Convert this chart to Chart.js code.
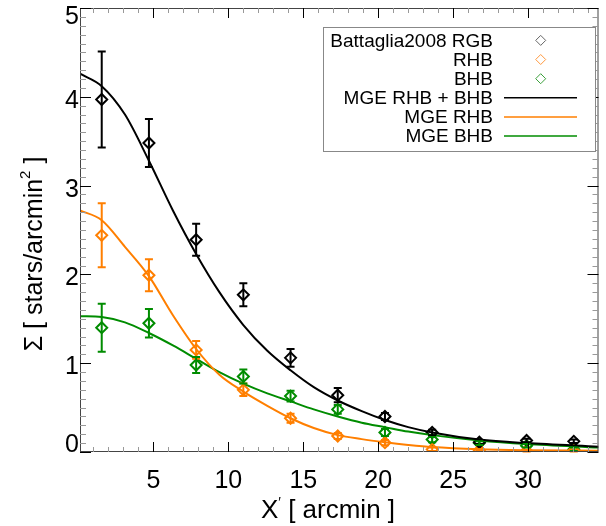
<!DOCTYPE html>
<html>
<head>
<meta charset="utf-8">
<script src="https://cdn.jsdelivr.net/npm/chart.js@4/dist/chart.umd.min.js"></script>
<style>
  html, body { margin: 0; padding: 0; background: #fff; }
</style>
</head>
<body>
<canvas id="myChart" width="606" height="526"></canvas>
<script>
// binned surface density (x in arcmin)
let radii = [1.55, 4.7, 7.85, 11.0, 14.15, 17.3, 20.45, 23.6, 26.75, 29.9, 33.05];
let rgbValues = [3.97, 3.48, 2.39, 1.77, 1.06, 0.64, 0.40, 0.22, 0.11, 0.13, 0.12];
let rgbErrors = [0.54, 0.27, 0.18, 0.13, 0.10, 0.08, 0.04, 0.03, 0.02, 0.02, 0.02];
let rhbValues = [2.44, 1.99, 1.15, 0.70, 0.38, 0.18, 0.105, 0.03, 0.02, 0.015, 0.015];
let rhbErrors = [0.36, 0.18, 0.10, 0.07, 0.05, 0.035, 0.03, 0.02, 0.01, 0.01, 0.01];
let bhbValues = [1.40, 1.45, 0.98, 0.85, 0.63, 0.48, 0.22, 0.14, 0.10, 0.07, 0.03];
let bhbErrors = [0.27, 0.16, 0.09, 0.08, 0.06, 0.05, 0.04, 0.03, 0.02, 0.02, 0.02];

// MGE model curves
let modelX = [0.1, 1.55, 3.1, 4.7, 6.3, 7.85, 9.4, 11.0, 12.6, 14.15, 15.7, 17.3, 18.9, 20.45, 22.0, 23.6, 26.75, 29.9, 34.7];
let modelTotal = [4.26, 4.12, 3.80, 3.28, 2.72, 2.23, 1.80, 1.43, 1.14, 0.92, 0.73, 0.58, 0.46, 0.36, 0.28, 0.22, 0.14, 0.10, 0.06];
let modelRhb = [2.72, 2.61, 2.31, 1.98, 1.54, 1.16, 0.87, 0.68, 0.52, 0.38, 0.27, 0.19, 0.145, 0.11, 0.08, 0.055, 0.03, 0.02, 0.015];
let modelBhb = [1.53, 1.52, 1.46, 1.34, 1.20, 1.05, 0.90, 0.77, 0.66, 0.57, 0.48, 0.40, 0.33, 0.28, 0.23, 0.19, 0.13, 0.09, 0.05];

let xTicks = [5, 10, 15, 20, 25, 30];
let yTicks = [0, 1, 2, 3, 4, 5];

let legendLabels = ['Battaglia2008 RGB', 'RHB', 'BHB', 'MGE RHB + BHB', 'MGE RHB', 'MGE BHB'];

const ORANGE = 'rgb(255,127,0)';
const GREEN = 'rgb(0,140,0)';
const FONT = '"Liberation Sans", Arial, Helvetica, sans-serif';

function pts(xs, ys) {
  return xs.map((x, i) => ({ x: x, y: ys[i] }));
}

function modelSet(ys, color) {
  return {
    data: pts(modelX, ys),
    showLine: true,
    pointRadius: 0,
    borderColor: color,
    borderWidth: 2,
    cubicInterpolationMode: 'monotone'
  };
}

function pointSet(ys, errs, color) {
  return {
    data: pts(radii, ys),
    errors: errs,
    showLine: false,
    pointStyle: 'rectRot',
    pointRadius: 5.5,
    borderColor: color,
    backgroundColor: 'rgba(0,0,0,0)',
    borderWidth: 2
  };
}

const errorBars = {
  id: 'errorBars',
  afterDatasetsDraw(chart) {
    const ctx = chart.ctx, xs = chart.scales.x, ys = chart.scales.y;
    ctx.save();
    chart.data.datasets.forEach(ds => {
      if (!ds.errors) return;
      ctx.strokeStyle = ds.borderColor;
      ctx.lineWidth = 2;
      ds.data.forEach((p, i) => {
        const px = xs.getPixelForValue(p.x);
        const top = ys.getPixelForValue(p.y + ds.errors[i]);
        const bot = ys.getPixelForValue(p.y - ds.errors[i]);
        ctx.beginPath();
        ctx.moveTo(px, top); ctx.lineTo(px, bot);
        ctx.moveTo(px - 4, top); ctx.lineTo(px + 4, top);
        ctx.moveTo(px - 4, bot); ctx.lineTo(px + 4, bot);
        ctx.stroke();
      });
    });
    ctx.restore();
  }
};

const frame = {
  id: 'frame',
  afterDraw(chart) {
    const ctx = chart.ctx, a = chart.chartArea, xs = chart.scales.x, ys = chart.scales.y;
    ctx.save();
    // box
    ctx.strokeStyle = '#444';
    ctx.lineWidth = 1;
    ctx.strokeRect(a.left + 0.5, a.top + 0.5, a.right - a.left - 1, a.bottom - a.top - 1);

    // minor ticks
    ctx.strokeStyle = '#999';
    ctx.beginPath();
    for (let v = 1; v < xs.max; v++) {
      if (v % 5 === 0) continue;
      const px = Math.round(xs.getPixelForValue(v)) + 0.5;
      ctx.moveTo(px, a.bottom); ctx.lineTo(px, a.bottom - 5);
      ctx.moveTo(px, a.top); ctx.lineTo(px, a.top + 5);
    }
    for (let k = 1; k < 50; k++) {
      if (k % 10 === 0) continue;
      const py = Math.round(ys.getPixelForValue(k / 10)) + 0.5;
      ctx.moveTo(a.left, py); ctx.lineTo(a.left + 6, py);
      ctx.moveTo(a.right, py); ctx.lineTo(a.right - 6, py);
    }
    ctx.stroke();

    // major ticks
    ctx.strokeStyle = '#000';
    ctx.beginPath();
    xTicks.forEach(v => {
      const px = Math.round(xs.getPixelForValue(v)) + 0.5;
      ctx.moveTo(px, a.bottom); ctx.lineTo(px, a.bottom - 10);
      ctx.moveTo(px, a.top); ctx.lineTo(px, a.top + 10);
    });
    yTicks.forEach(v => {
      const py = Math.round(ys.getPixelForValue(v)) + 0.5;
      ctx.moveTo(a.left, py); ctx.lineTo(a.left + 11, py);
      ctx.moveTo(a.right, py); ctx.lineTo(a.right - 11, py);
    });
    ctx.stroke();

    // tick labels
    ctx.fillStyle = '#000';
    ctx.font = '25px ' + FONT;
    ctx.textAlign = 'center';
    ctx.textBaseline = 'alphabetic';
    xTicks.forEach(v => ctx.fillText(String(v), xs.getPixelForValue(v), 488));
    ctx.textAlign = 'right';
    yTicks.forEach(v => {
      const base = Math.min(452, Math.max(24, ys.getPixelForValue(v) + 11));
      ctx.fillText(String(v), 79, base);
    });

    // x title (small raised prime)
    ctx.font = '26px ' + FONT;
    ctx.textAlign = 'left';
    const xa = 'X', xb = ' [ arcmin ]';
    const wa = ctx.measureText(xa).width, wb = ctx.measureText(xb).width;
    ctx.font = '14px ' + FONT;
    const wp = ctx.measureText('\u2032').width;
    const xs0 = 328 - (wa + wp + wb) / 2;
    ctx.font = '26px ' + FONT;
    ctx.fillText(xa, xs0, 518);
    ctx.font = '14px ' + FONT;
    ctx.fillText('\u2032', xs0 + wa, 507);
    ctx.font = '26px ' + FONT;
    ctx.fillText(xb, xs0 + wa + wp, 518);

    // y title, rotated, with superscript
    ctx.save();
    ctx.translate(42, 254);
    ctx.rotate(-Math.PI / 2);
    const p1 = '\u03A3 [ stars/arcmin', p3 = ' ]';
    ctx.font = '25px ' + FONT;
    const w1 = ctx.measureText(p1).width, w3 = ctx.measureText(p3).width;
    ctx.font = '15px ' + FONT;
    const w2 = ctx.measureText('2').width;
    let x0 = -(w1 + w2 + w3) / 2;
    ctx.textAlign = 'left';
    ctx.font = '25px ' + FONT;
    ctx.fillText(p1, x0, 0);
    ctx.font = '15px ' + FONT;
    ctx.fillText('2', x0 + w1, -12);
    ctx.font = '25px ' + FONT;
    ctx.fillText(p3, x0 + w1 + w2, 0);
    ctx.restore();

    // legend
    ctx.fillStyle = '#fff';
    ctx.fillRect(323, 27, 272, 124);
    ctx.strokeStyle = '#888';
    ctx.lineWidth = 1;
    ctx.strokeRect(323.5, 27.5, 272, 124);
    ctx.fillStyle = '#000';
    ctx.font = '19px ' + FONT;
    ctx.textAlign = 'right';
    const bases = [46.7, 65.8, 85, 104, 123.2, 142.3];
    const symCols = ['#666', '#ff9a40', '#3aa03a'];
    const lineCols = ['#000', ORANGE, GREEN];
    legendLabels.forEach((t, i) => {
      ctx.fillText(t, 493, bases[i]);
      const cy = bases[i] - 6.3;
      if (i < 3) {
        ctx.strokeStyle = symCols[i];
        ctx.lineWidth = 1;
        ctx.beginPath();
        ctx.moveTo(540.7, cy - 5); ctx.lineTo(545.7, cy); ctx.lineTo(540.7, cy + 5); ctx.lineTo(535.7, cy);
        ctx.closePath();
        ctx.stroke();
      } else {
        ctx.strokeStyle = lineCols[i - 3];
        ctx.lineWidth = 1.5;
        ctx.beginPath();
        ctx.moveTo(504, cy); ctx.lineTo(577, cy);
        ctx.stroke();
      }
    });
    ctx.restore();
  }
};

function createChart() {
  const ctx = document.getElementById('myChart').getContext('2d');
  new Chart(ctx, {
    type: 'scatter',
    data: {
      datasets: [
        modelSet(modelTotal, '#000'),
        modelSet(modelRhb, ORANGE),
        modelSet(modelBhb, GREEN),
        pointSet(rgbValues, rgbErrors, '#000'),
        pointSet(rhbValues, rhbErrors, ORANGE),
        pointSet(bhbValues, bhbErrors, GREEN)
      ]
    },
    options: {
      responsive: false,
      animation: false,
      devicePixelRatio: 1,
      layout: { padding: { left: 80, top: 8, right: 1, bottom: 74 } },
      scales: {
        x: { type: 'linear', min: 0.1, max: 34.7, display: false },
        y: { type: 'linear', min: 0, max: 5, display: false }
      },
      plugins: {
        legend: { display: false },
        tooltip: { enabled: false }
      }
    },
    plugins: [errorBars, frame]
  });
}

window.onload = createChart;
</script>
</body>
</html>
